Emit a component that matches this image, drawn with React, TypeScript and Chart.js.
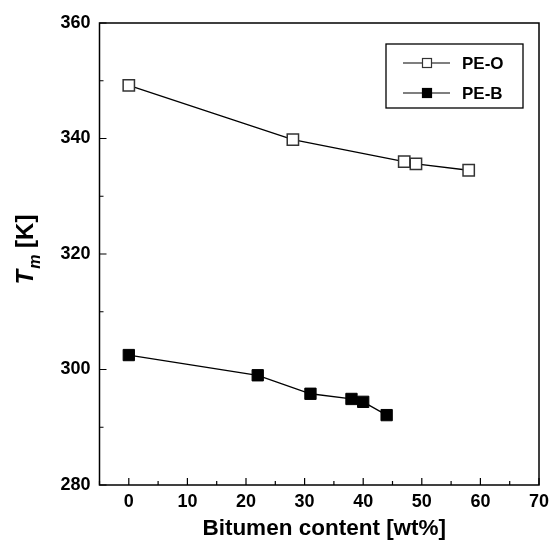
import React, { useEffect, useRef } from "react";
import { Chart, registerables } from "chart.js";

Chart.register(...registerables);

const seriesNames = ["PE-O", "PE-B"];
const peOX = [0, 28, 47, 49, 58];
const peOY = [349.2, 339.8, 336.0, 335.6, 334.5];
const peBX = [0, 22, 31, 38, 40, 44];
const peBY = [302.5, 299.0, 295.8, 294.9, 294.4, 292.1];
const xTicks = [0, 10, 20, 30, 40, 50, 60, 70];
const xMinor = [-5, 5, 15, 25, 35, 45, 55, 65];
const yTicks = [280, 300, 320, 340, 360];
const yMinor = [290, 310, 330, 350];
const xTitle = "Bitumen content [wt%]";
const yTitleMain = "T";
const yTitleSub = "m";
const yTitleRest = " [K]";

const FONT = "'Liberation Sans', Arial, sans-serif";

const decorPlugin = {
  id: "decor",
  afterDraw(chart: any) {
    const ctx = chart.ctx as CanvasRenderingContext2D;
    const a = chart.chartArea;
    const xs = chart.scales.x;
    const ys = chart.scales.y;
    ctx.save();
    // frame
    ctx.strokeStyle = "#000";
    ctx.lineWidth = 1.5;
    ctx.strokeRect(a.left, a.top, a.right - a.left, a.bottom - a.top);
    // inward ticks
    ctx.lineWidth = 1.2;
    ctx.beginPath();
    xTicks.forEach((v) => {
      const p = xs.getPixelForValue(v);
      ctx.moveTo(p, a.bottom);
      ctx.lineTo(p, a.bottom - 7);
    });
    xMinor.forEach((v) => {
      const p = xs.getPixelForValue(v);
      ctx.moveTo(p, a.bottom);
      ctx.lineTo(p, a.bottom - 4);
    });
    yTicks.forEach((v) => {
      const p = ys.getPixelForValue(v);
      ctx.moveTo(a.left, p);
      ctx.lineTo(a.left + 7, p);
    });
    yMinor.forEach((v) => {
      const p = ys.getPixelForValue(v);
      ctx.moveTo(a.left, p);
      ctx.lineTo(a.left + 4, p);
    });
    ctx.stroke();

    // x title
    ctx.fillStyle = "#000";
    ctx.font = `bold 22.5px ${FONT}`;
    ctx.textAlign = "center";
    ctx.textBaseline = "alphabetic";
    ctx.fillText(xTitle, (a.left + a.right) / 2 + 5, 535);

    // y title (rotated)
    ctx.save();
    ctx.translate(33, 250);
    ctx.rotate(-Math.PI / 2);
    const fMain = `italic bold 24px ${FONT}`;
    const fSub = `italic bold 16px ${FONT}`;
    const fRest = `bold 24px ${FONT}`;
    ctx.font = fMain;
    const wT = ctx.measureText(yTitleMain).width;
    ctx.font = fSub;
    const wM = ctx.measureText(yTitleSub).width;
    ctx.font = fRest;
    const wR = ctx.measureText(yTitleRest).width;
    const total = wT + wM + wR;
    let x0 = -total / 2;
    ctx.textAlign = "left";
    ctx.textBaseline = "alphabetic";
    ctx.font = fMain;
    ctx.fillText(yTitleMain, x0, 0);
    x0 += wT + 1;
    ctx.font = fSub;
    ctx.fillText(yTitleSub, x0, 7);
    x0 += wM;
    ctx.font = fRest;
    ctx.fillText(yTitleRest, x0, 0);
    ctx.restore();

    // legend
    const bx = a.right - 153;
    const by = a.top + 21;
    const bw = 137;
    const bh = 64;
    ctx.fillStyle = "#fff";
    ctx.fillRect(bx, by, bw, bh);
    ctx.strokeStyle = "#000";
    ctx.lineWidth = 1.3;
    ctx.strokeRect(bx, by, bw, bh);
    chart.data.datasets.forEach((ds: any, i: number) => {
      const cy = by + 19 + i * 30;
      ctx.strokeStyle = "#000";
      ctx.lineWidth = 1.2;
      ctx.beginPath();
      ctx.moveTo(bx + 17, cy);
      ctx.lineTo(bx + 64, cy);
      ctx.stroke();
      const s = 9;
      const mx = bx + 41;
      ctx.fillStyle = ds.pointBackgroundColor;
      ctx.fillRect(mx - s / 2, cy - s / 2, s, s);
      ctx.strokeStyle = ds.pointBorderColor;
      ctx.lineWidth = 1.2;
      ctx.strokeRect(mx - s / 2, cy - s / 2, s, s);
      ctx.fillStyle = "#000";
      ctx.font = `bold 17px ${FONT}`;
      ctx.textAlign = "left";
      ctx.textBaseline = "middle";
      ctx.fillText(ds.label, bx + 76, cy + 1);
    });
    ctx.restore();
  },
};

export default function App() {
  const ref = useRef<HTMLCanvasElement | null>(null);
  useEffect(() => {
    if (!ref.current) return;
    const chart = new Chart(ref.current, {
      type: "line",
      data: {
        datasets: [
          {
            label: seriesNames[0],
            data: peOX.map((x, i) => ({ x, y: peOY[i] })),
            borderColor: "#000",
            borderWidth: 1.3,
            pointStyle: "rect",
            pointRadius: 8,
            pointBackgroundColor: "#fff",
            pointBorderColor: "#333",
            pointBorderWidth: 1.5,
            tension: 0,
          },
          {
            label: seriesNames[1],
            data: peBX.map((x, i) => ({ x, y: peBY[i] })),
            borderColor: "#000",
            borderWidth: 1.3,
            pointStyle: "rect",
            pointRadius: 8,
            pointBackgroundColor: "#000",
            pointBorderColor: "#000",
            pointBorderWidth: 1,
            tension: 0,
          },
        ],
      },
      options: {
        animation: false,
        responsive: false,
        devicePixelRatio: 1,
        layout: { padding: { top: 23, right: 10, left: 0, bottom: 0 } },
        plugins: { legend: { display: false }, tooltip: { enabled: false } },
        scales: {
          x: {
            type: "linear",
            min: -5,
            max: 70,
            afterBuildTicks: (s: any) => {
              s.ticks = xTicks.map((v) => ({ value: v }));
            },
            afterFit: (s: any) => {
              s.height = 56;
              s.paddingLeft = 0;
              s.paddingRight = 0;
            },
            grid: { display: false, drawTicks: false },
            border: { display: false },
            ticks: {
              color: "#000",
              font: { family: FONT, weight: "bold", size: 18 },
              padding: 6,
              maxRotation: 0,
              autoSkip: false,
            },
          },
          y: {
            type: "linear",
            min: 280,
            max: 360,
            afterBuildTicks: (s: any) => {
              s.ticks = yTicks.map((v) => ({ value: v }));
            },
            afterFit: (s: any) => {
              s.width = 99.5;
              s.paddingTop = 0;
              s.paddingBottom = 0;
            },
            grid: { display: false, drawTicks: false },
            border: { display: false },
            ticks: {
              color: "#000",
              font: { family: FONT, weight: "bold", size: 18 },
              padding: 9,
            },
          },
        },
      } as any,
      plugins: [decorPlugin],
    });
    return () => chart.destroy();
  }, []);
  return (
    <div style={{ position: "absolute", left: 0, top: 0, width: 549, height: 541, background: "#fff" }}>
      <canvas ref={ref} width={549} height={541} />
    </div>
  );
}
